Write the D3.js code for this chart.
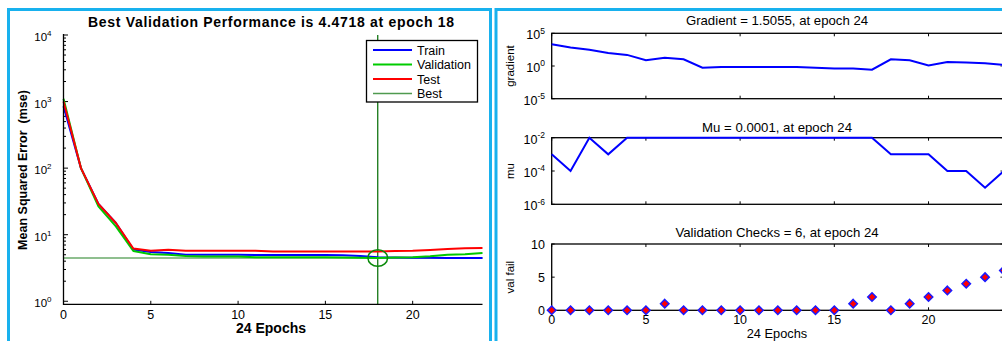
<!DOCTYPE html>
<html>
<head>
<meta charset="utf-8">
<script src="https://cdn.jsdelivr.net/npm/d3@7"></script>
<style>
  html, body { margin: 0; padding: 0; background: #fff; }
  svg { display: block; font-family: "Liberation Sans", Arial, sans-serif; }
</style>
</head>
<body>
<svg id="chart" width="1002" height="341"></svg>
<script>
// ---- Training record (24 epochs) ----
const epochs = d3.range(0, 25);
const trainPerf = [850, 100, 29, 15, 6.0, 5.5, 5.3, 5.0, 5.0, 5.0, 5.0, 4.95, 4.95, 4.95, 4.95, 4.95, 4.9, 4.8, 4.6, 4.55, 4.5, 4.5, 4.48, 4.46, 4.45];
const valPerf   = [1100, 100, 26.7, 13.3, 5.7, 5.1, 5.0, 4.8, 4.7, 4.7, 4.7, 4.6, 4.6, 4.6, 4.6, 4.6, 4.55, 4.5, 4.4718, 4.55, 4.6, 4.75, 5.0, 5.1, 5.3];
const testPerf  = [1000, 100, 29, 15, 6.2, 5.75, 5.95, 5.75, 5.75, 5.75, 5.75, 5.75, 5.6, 5.6, 5.6, 5.6, 5.6, 5.6, 5.6, 5.7, 5.75, 5.9, 6.1, 6.25, 6.3];
const bestEpoch = 18;
const bestPerf = 4.4718;

const gradient  = [2200, 700, 300, 100, 50, 7.5, 19, 10.5, 0.55, 0.7, 0.7, 0.7, 0.7, 0.7, 0.55, 0.4, 0.4, 0.27, 10.5, 7.5, 1.25, 4.2, 3.3, 2.6, 1.5055];
const mu        = [1e-3, 1e-4, 1e-2, 1e-3, 1e-2, 1e-2, 1e-2, 1e-2, 1e-2, 1e-2, 1e-2, 1e-2, 1e-2, 1e-2, 1e-2, 1e-2, 1e-2, 1e-2, 1e-3, 1e-3, 1e-3, 1e-4, 1e-4, 1e-5, 1e-4];
const valFail   = [0, 0, 0, 0, 0, 0, 1, 0, 0, 0, 0, 0, 0, 0, 0, 0, 1, 2, 0, 1, 2, 3, 4, 5, 6];

const xTicks = [0, 5, 10, 15, 20];
const perfTicks = [1, 10, 100, 1000, 10000];
const gradTicks = [1e-5, 1, 1e5];
const muTicks = [1e-6, 1e-4, 1e-2];
const failTicks = [0, 5, 10];

const legendItems = [
  { name: "Train", color: "#0000ff", w: 2.2 },
  { name: "Validation", color: "#00cc00", w: 2.2 },
  { name: "Test", color: "#ff0000", w: 2.2 },
  { name: "Best", color: "#4f9a4f", w: 1.3 }
];

const svg = d3.select("#chart");
const frameColor = "#18b1ee";

// Window frames
svg.append("path").attr("fill", "none").attr("stroke", frameColor).attr("stroke-width", 3)
  .attr("d", "M8.5,345 V9.5 H490.5 V345");
svg.append("path").attr("fill", "none").attr("stroke", frameColor).attr("stroke-width", 3)
  .attr("d", "M496,345 V9.5 H1010");

// Superscript log label helper
function logLabel(g, v, x, y, base, sup) {
  const e = Math.round(Math.log10(v));
  const t = g.append("text").attr("x", x).attr("y", y).attr("text-anchor", "end")
    .attr("font-size", base).attr("fill", "#000");
  t.append("tspan").text("10");
  t.append("tspan").attr("font-size", sup).attr("dy", -base * 0.45).text(e);
}

// ================= Performance panel =================
const xP = d3.scaleLinear().domain([0, 24]).range([63.5, 482.5]);
const yP = d3.scaleLog().domain([0.9, 1e4]).range([304.3, 35]);
const gP = svg.append("g");

// minor + major ticks on y axis (pointing inward)
const minorP = [];
for (let d = 0; d < 4; d++) for (let m = 2; m <= 9; m++) minorP.push(m * Math.pow(10, d));
gP.selectAll(".pminor").data(minorP).enter().append("line")
  .attr("x1", xP(0)).attr("x2", xP(0) + 2.5)
  .attr("y1", d => yP(d)).attr("y2", d => yP(d))
  .attr("stroke", "#000").attr("stroke-width", 1);
gP.selectAll(".pmajor").data(perfTicks).enter().append("line")
  .attr("x1", xP(0)).attr("x2", xP(0) + 4.5)
  .attr("y1", d => yP(d)).attr("y2", d => yP(d))
  .attr("stroke", "#000").attr("stroke-width", 1);
perfTicks.forEach(v => logLabel(gP, v, 51.5, yP(v) + 6, 11.5, 8));

gP.selectAll(".pxt").data(xTicks).enter().append("line")
  .attr("x1", d => xP(d)).attr("x2", d => xP(d))
  .attr("y1", yP.range()[0]).attr("y2", yP.range()[0] - 3.5)
  .attr("stroke", "#000").attr("stroke-width", 1);
gP.selectAll(".pxl").data(xTicks).enter().append("text")
  .attr("x", d => xP(d)).attr("y", 319).attr("text-anchor", "middle")
  .attr("font-size", 12.5).text(d => d);

// best-epoch reference lines
gP.append("line").attr("x1", xP(0)).attr("x2", xP(24))
  .attr("y1", yP(bestPerf)).attr("y2", yP(bestPerf))
  .attr("stroke", "#6aaa6a").attr("stroke-width", 1.6);
gP.append("line").attr("x1", xP(bestEpoch)).attr("x2", xP(bestEpoch))
  .attr("y1", yP.range()[1]).attr("y2", yP.range()[0])
  .attr("stroke", "#006a00").attr("stroke-width", 1.2);

const lineP = d3.line().x((d, i) => xP(epochs[i])).y(d => yP(d));
[[trainPerf, "#0000ff"], [valPerf, "#00c800"], [testPerf, "#ff0000"]].forEach(([s, c]) => {
  gP.append("path").datum(s).attr("d", lineP).attr("fill", "none")
    .attr("stroke", c).attr("stroke-width", 2).attr("stroke-linejoin", "round");
});

gP.append("ellipse").attr("cx", xP(bestEpoch)).attr("cy", yP(bestPerf))
  .attr("rx", 9.8).attr("ry", 8.3).attr("fill", "none")
  .attr("stroke", "#0a8a0a").attr("stroke-width", 1.5);

// axis lines
gP.append("path").attr("fill", "none").attr("stroke", "#000").attr("stroke-width", 1.3)
  .attr("d", `M${xP(0)},${yP.range()[1] - 1} V${yP.range()[0]} H${xP(24)}`);

gP.append("text").attr("x", 271).attr("y", 27).attr("text-anchor", "middle")
  .attr("font-size", 14).attr("font-weight", "bold")
  .attr("textLength", 366).attr("lengthAdjust", "spacing")
  .text(`Best Validation Performance is ${bestPerf} at epoch ${bestEpoch}`);
gP.append("text").attr("transform", "translate(27,170) rotate(-90)")
  .attr("text-anchor", "middle").attr("font-size", 12.5).attr("font-weight", "bold")
  .attr("xml:space", "preserve")
  .text("Mean Squared Error  (mse)");
gP.append("text").attr("x", 271).attr("y", 333).attr("text-anchor", "middle")
  .attr("font-size", 14).attr("font-weight", "bold").text("24 Epochs");

// legend
const lg = gP.append("g");
lg.append("rect").attr("x", 366.5).attr("y", 40.5).attr("width", 111).attr("height", 61.5)
  .attr("fill", "#fff").attr("stroke", "#000").attr("stroke-width", 1.3);
legendItems.forEach((it, i) => {
  const cy = 50 + i * 14.5;
  lg.append("line").attr("x1", 373).attr("x2", 412).attr("y1", cy).attr("y2", cy)
    .attr("stroke", it.color).attr("stroke-width", it.w);
  lg.append("text").attr("x", 417).attr("y", cy + 4.5).attr("font-size", 12.5).text(it.name);
});

// ================= Training state panel =================
const xS = d3.scaleLinear().domain([0, 24]).range([551.7, 1003.9]);

function stateBox(y, ticks, labelFn, title, ylab, titleY) {
  const g = svg.append("g");
  const [y0, y1] = y.range();
  // x ticks top and bottom
  xTicks.forEach(t => {
    g.append("line").attr("x1", xS(t)).attr("x2", xS(t)).attr("y1", y0).attr("y2", y0 - 3)
      .attr("stroke", "#000");
    g.append("line").attr("x1", xS(t)).attr("x2", xS(t)).attr("y1", y1).attr("y2", y1 + 3)
      .attr("stroke", "#000");
  });
  ticks.forEach(t => {
    g.append("line").attr("x1", xS(0)).attr("x2", xS(0) + 3).attr("y1", y(t)).attr("y2", y(t))
      .attr("stroke", "#000");
    g.append("line").attr("x1", xS(24)).attr("x2", xS(24) - 3.5).attr("y1", y(t)).attr("y2", y(t))
      .attr("stroke", "#333");
    labelFn(g, t);
  });
  g.append("rect").attr("x", xS(0)).attr("y", y1).attr("width", xS(24) - xS(0)).attr("height", y0 - y1)
    .attr("fill", "none").attr("stroke", "#000").attr("stroke-width", 1.3);
  g.append("text").attr("x", 777).attr("y", titleY).attr("text-anchor", "middle")
    .attr("font-size", 13.2).text(title);
  g.append("text").attr("transform", `translate(514,${(y0 + y1) / 2}) rotate(-90)`)
    .attr("text-anchor", "middle").attr("font-size", 11.5).text(ylab);
  return g;
}

// gradient
const yG = d3.scaleLog().domain([1e-5, 1e5]).range([98.7, 33.3]);
const gG = stateBox(yG, gradTicks, (g, t) => logLabel(g, t, 545, yG(t) + 6, 12.5, 8.5),
  `Gradient = ${gradient[24]}, at epoch 24`, "gradient", 25);
gG.append("path").datum(gradient)
  .attr("d", d3.line().x((d, i) => xS(epochs[i])).y(d => yG(d)))
  .attr("fill", "none").attr("stroke", "#0000ff").attr("stroke-width", 2);

// mu
const yM = d3.scaleLog().domain([1e-6, 1e-2]).range([204.3, 137.7]);
const gM = stateBox(yM, muTicks, (g, t) => logLabel(g, t, 545, yM(t) + 6, 12.5, 8.5),
  `Mu = ${mu[24].toFixed(4)}, at epoch 24`, "mu", 132);
gM.append("path").datum(mu)
  .attr("d", d3.line().x((d, i) => xS(epochs[i])).y(d => yM(d)))
  .attr("fill", "none").attr("stroke", "#0000ff").attr("stroke-width", 2);

// validation checks
const yV = d3.scaleLinear().domain([0, 10]).range([310.3, 244]);
const gV = stateBox(yV, failTicks, (g, t) => g.append("text").attr("x", 545).attr("y", yV(t) + 4.5)
    .attr("text-anchor", "end").attr("font-size", 12.5).text(t),
  `Validation Checks = ${valFail[24]}, at epoch 24`, "val fail", 237);
gV.selectAll(".xl").data(xTicks).enter().append("text")
  .attr("x", d => xS(d)).attr("y", 324).attr("text-anchor", "middle")
  .attr("font-size", 12.5).text(d => d);
gV.append("text").attr("x", 777).attr("y", 338).attr("text-anchor", "middle")
  .attr("font-size", 12.8).text("24 Epochs");
const diamond = d3.symbol().type(d3.symbolDiamond2).size(46);
gV.selectAll(".vf").data(valFail).enter().append("path")
  .attr("d", diamond)
  .attr("transform", (d, i) => `translate(${xS(epochs[i])},${yV(d)})`)
  .attr("fill", "#ff0000").attr("stroke", "#1a1aff").attr("stroke-width", 1.5);
</script>
</body>
</html>
